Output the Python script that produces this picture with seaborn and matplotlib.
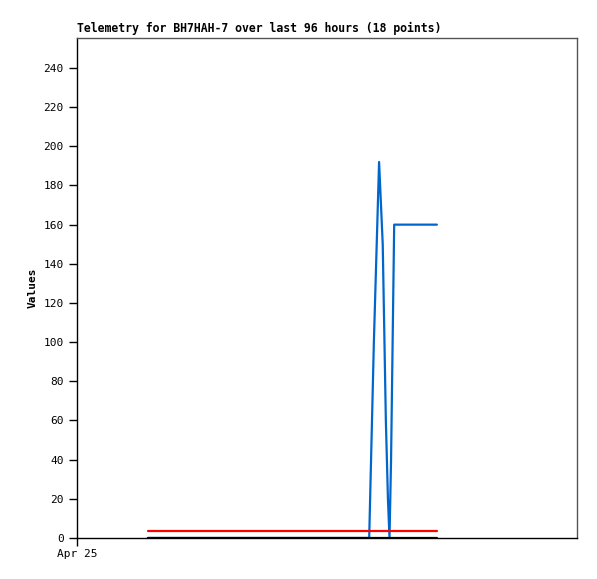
import pandas as pd
import matplotlib.pyplot as plt
import seaborn as sns

# Hours since Apr 25 00:00 for the 18 telemetry points
hours = [13.6, 20.0, 28.0, 36.0, 44.0, 52.0, 56.1, 57.0, 58.0, 58.7,
         59.3, 59.7, 60.0, 60.3, 60.9, 63.0, 66.0, 69.1]
ch1 = [0, 0, 0, 0, 0, 0, 0, 100, 192, 150, 60, 20, 0, 40, 160, 160, 160, 160]
ch2 = [3.5] * 18
ch3 = [0] * 18

df = pd.DataFrame({"hours": hours, "ch1": ch1, "ch2": ch2, "ch3": ch3})

sns.set_style("white")
plt.rcParams['font.family'] = ['DejaVu Sans Mono']
plt.rcParams['text.color'] = 'black'
plt.rcParams['axes.labelcolor'] = 'black'

fig = plt.figure(figsize=(5.97, 5.79), dpi=100)
ax = fig.add_axes([77 / 597, 41 / 579, 500 / 597, 500 / 579])

sns.lineplot(data=df, x="hours", y="ch1", color="#0066cc", linewidth=1.6, ax=ax)
sns.lineplot(data=df, x="hours", y="ch2", color="#ff0000", linewidth=1.6, ax=ax)
sns.lineplot(data=df, x="hours", y="ch3", color="#000000", linewidth=1.6, ax=ax)

ax.set_xlim(0, 96)
ax.set_ylim(0, 255.3)
ax.set_yticks(range(0, 241, 20))
ax.set_xticks([0])
ax.set_xticklabels(["Apr 25"])
ax.tick_params(axis="both", direction="out", length=6, width=1, colors="black",
               labelsize=8, left=True, bottom=True)
ax.tick_params(axis="x", pad=2)

for side in ["top", "right"]:
    ax.spines[side].set_color("#555555")
    ax.spines[side].set_linewidth(1)
for side in ["left", "bottom"]:
    ax.spines[side].set_color("black")
    ax.spines[side].set_linewidth(1)

ax.set_xlabel("")
ax.set_ylabel("Values", fontsize=8, fontweight="bold", color="black")
ax.set_title("Telemetry for BH7HAH-7 over last 96 hours (18 points)",
             fontsize=8.3, fontweight="bold", loc="left", pad=4, color="black")

plt.savefig("out.png", dpi=100)
